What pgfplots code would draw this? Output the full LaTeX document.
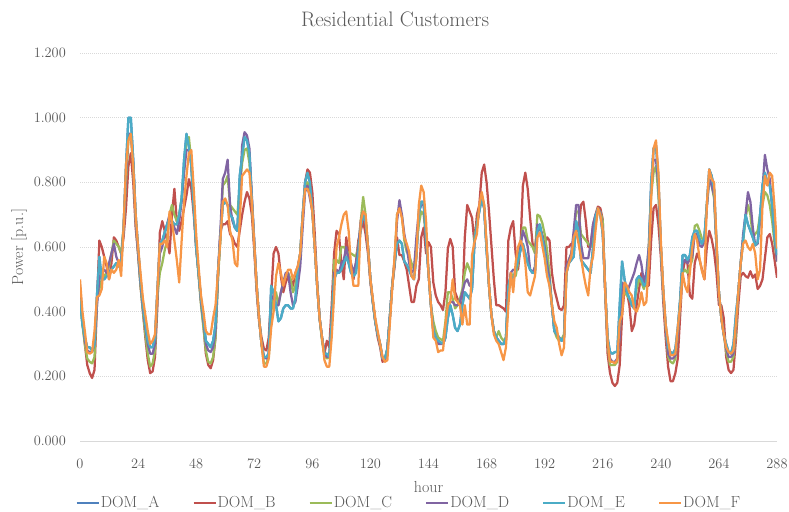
\documentclass[border=0pt]{standalone}
\usepackage{pgfplots}
\pgfplotsset{compat=1.18}
\usepackage{pgfplotstable}
\definecolor{cA}{HTML}{4F81BD}
\definecolor{cB}{HTML}{C0504D}
\definecolor{cC}{HTML}{9BBB59}
\definecolor{cD}{HTML}{8064A2}
\definecolor{cE}{HTML}{4BACC6}
\definecolor{cF}{HTML}{F79646}
\definecolor{txt}{HTML}{595959}
\definecolor{gridc}{HTML}{D9D9D9}

\pgfplotstableread{
h B C D E F
0 0.45 0.44 0.48 0.44 0.50
1 0.37 0.36 0.38 0.36 0.40
2 0.30 0.30 0.31 0.32 0.34
3 0.235 0.255 0.28 0.29 0.275
4 0.21 0.245 0.275 0.29 0.27
5 0.195 0.24 0.275 0.28 0.275
6 0.22 0.26 0.30 0.30 0.34
7 0.42 0.44 0.42 0.45 0.445
8 0.62 0.47 0.50 0.57 0.45
9 0.60 0.50 0.53 0.50 0.47
10 0.57 0.51 0.53 0.50 0.57
11 0.54 0.52 0.52 0.51 0.55
12 0.50 0.54 0.55 0.52 0.50
13 0.55 0.58 0.58 0.53 0.53
14 0.63 0.62 0.61 0.54 0.52
15 0.62 0.61 0.57 0.55 0.53
16 0.60 0.60 0.55 0.54 0.56
17 0.58 0.58 0.56 0.55 0.51
18 0.63 0.66 0.65 0.66 0.66
19 0.72 0.80 0.82 0.85 0.85
20 0.85 0.93 0.95 1.00 0.93
21 0.89 0.95 0.95 1.00 0.95
22 0.80 0.85 0.86 0.87 0.85
23 0.66 0.68 0.68 0.70 0.70
24 0.58 0.58 0.58 0.60 0.60
25 0.48 0.48 0.49 0.50 0.52
26 0.40 0.40 0.41 0.42 0.44
27 0.32 0.33 0.35 0.36 0.39
28 0.25 0.27 0.30 0.31 0.34
29 0.21 0.23 0.27 0.29 0.30
30 0.215 0.24 0.27 0.29 0.31
31 0.26 0.28 0.30 0.32 0.33
32 0.42 0.45 0.46 0.47 0.47
33 0.645 0.52 0.58 0.61 0.61
34 0.68 0.55 0.60 0.62 0.61
35 0.65 0.59 0.645 0.645 0.62
36 0.62 0.62 0.67 0.67 0.60
37 0.58 0.70 0.70 0.69 0.71
38 0.70 0.73 0.68 0.68 0.68
39 0.78 0.70 0.66 0.67 0.62
40 0.68 0.68 0.64 0.67 0.56
41 0.65 0.70 0.68 0.70 0.49
42 0.68 0.75 0.74 0.75 0.62
43 0.72 0.84 0.83 0.87 0.74
44 0.76 0.93 0.90 0.95 0.82
45 0.81 0.94 0.90 0.91 0.89
46 0.78 0.86 0.86 0.85 0.90
47 0.70 0.73 0.73 0.72 0.78
48 0.60 0.60 0.60 0.60 0.64
49 0.52 0.51 0.52 0.52 0.54
50 0.43 0.42 0.43 0.44 0.45
51 0.36 0.35 0.37 0.38 0.40
52 0.27 0.28 0.30 0.31 0.34
53 0.235 0.245 0.28 0.30 0.33
54 0.225 0.24 0.275 0.29 0.33
55 0.25 0.26 0.29 0.31 0.38
56 0.32 0.32 0.34 0.36 0.42
57 0.50 0.50 0.52 0.52 0.52
58 0.65 0.62 0.65 0.63 0.62
59 0.67 0.79 0.81 0.73 0.74
60 0.67 0.80 0.83 0.74 0.75
61 0.68 0.82 0.87 0.73 0.73
62 0.64 0.73 0.73 0.70 0.65
63 0.63 0.72 0.68 0.69 0.62
64 0.61 0.71 0.66 0.66 0.55
65 0.60 0.70 0.65 0.65 0.54
66 0.65 0.78 0.76 0.82 0.68
67 0.70 0.86 0.915 0.88 0.82
68 0.74 0.90 0.955 0.94 0.83
69 0.77 0.905 0.945 0.93 0.84
70 0.75 0.86 0.905 0.89 0.83
71 0.70 0.74 0.76 0.75 0.74
72 0.59 0.61 0.62 0.61 0.61
73 0.46 0.48 0.48 0.48 0.48
74 0.37 0.38 0.38 0.38 0.38
75 0.32 0.30 0.30 0.30 0.30
76 0.285 0.24 0.26 0.26 0.23
77 0.28 0.24 0.255 0.26 0.23
78 0.32 0.26 0.27 0.27 0.255
79 0.45 0.40 0.45 0.48 0.35
80 0.58 0.44 0.44 0.46 0.40
81 0.60 0.46 0.42 0.42 0.51
82 0.58 0.42 0.42 0.37 0.55
83 0.51 0.46 0.46 0.38 0.52
84 0.46 0.49 0.49 0.41 0.48
85 0.49 0.51 0.52 0.42 0.51
86 0.51 0.52 0.52 0.42 0.53
87 0.50 0.50 0.46 0.41 0.53
88 0.48 0.46 0.42 0.41 0.50
89 0.52 0.48 0.43 0.44 0.52
90 0.54 0.53 0.48 0.53 0.54
91 0.58 0.58 0.54 0.58 0.58
92 0.69 0.69 0.66 0.70 0.69
93 0.80 0.78 0.77 0.80 0.78
94 0.84 0.80 0.79 0.83 0.78
95 0.83 0.77 0.75 0.80 0.76
96 0.77 0.71 0.71 0.72 0.71
97 0.64 0.60 0.60 0.60 0.60
98 0.49 0.48 0.48 0.48 0.48
99 0.38 0.38 0.38 0.38 0.38
100 0.32 0.31 0.32 0.32 0.32
101 0.27 0.265 0.27 0.27 0.25
102 0.31 0.255 0.26 0.27 0.23
103 0.29 0.26 0.26 0.26 0.23
104 0.42 0.36 0.36 0.37 0.32
105 0.58 0.56 0.52 0.50 0.45
106 0.65 0.56 0.53 0.52 0.60
107 0.64 0.55 0.52 0.52 0.63
108 0.55 0.60 0.55 0.53 0.67
109 0.50 0.60 0.56 0.55 0.70
110 0.63 0.59 0.60 0.57 0.71
111 0.58 0.58 0.56 0.55 0.65
112 0.53 0.58 0.55 0.52 0.54
113 0.50 0.575 0.52 0.51 0.48
114 0.55 0.57 0.55 0.52 0.48
115 0.62 0.60 0.60 0.58 0.48
116 0.65 0.68 0.68 0.66 0.68
117 0.68 0.755 0.71 0.70 0.71
118 0.64 0.70 0.68 0.68 0.70
119 0.58 0.60 0.60 0.60 0.60
120 0.49 0.50 0.50 0.50 0.50
121 0.43 0.43 0.43 0.43 0.44
122 0.37 0.37 0.37 0.37 0.38
123 0.32 0.33 0.33 0.33 0.34
124 0.29 0.30 0.30 0.30 0.30
125 0.245 0.255 0.255 0.255 0.26
126 0.25 0.255 0.25 0.255 0.245
127 0.28 0.285 0.285 0.285 0.25
128 0.38 0.38 0.38 0.38 0.36
129 0.48 0.48 0.48 0.48 0.47
130 0.54 0.56 0.56 0.55 0.57
131 0.63 0.70 0.68 0.61 0.70
132 0.575 0.72 0.745 0.62 0.72
133 0.575 0.70 0.70 0.61 0.69
134 0.555 0.62 0.64 0.555 0.63
135 0.53 0.585 0.60 0.545 0.61
136 0.48 0.575 0.55 0.53 0.585
137 0.43 0.55 0.52 0.51 0.51
138 0.43 0.53 0.53 0.50 0.50
139 0.48 0.60 0.63 0.57 0.57
140 0.50 0.67 0.71 0.70 0.73
141 0.63 0.71 0.73 0.74 0.79
142 0.66 0.70 0.73 0.74 0.77
143 0.58 0.63 0.62 0.63 0.68
144 0.615 0.52 0.52 0.52 0.52
145 0.60 0.42 0.42 0.42 0.42
146 0.49 0.37 0.34 0.34 0.32
147 0.45 0.34 0.32 0.32 0.31
148 0.43 0.32 0.30 0.31 0.275
149 0.42 0.315 0.30 0.305 0.28
150 0.405 0.31 0.30 0.30 0.28
151 0.46 0.37 0.32 0.32 0.36
152 0.595 0.46 0.42 0.38 0.42
153 0.625 0.46 0.43 0.42 0.43
154 0.60 0.44 0.43 0.39 0.50
155 0.46 0.41 0.42 0.35 0.44
156 0.44 0.42 0.42 0.34 0.43
157 0.42 0.44 0.43 0.36 0.42
158 0.43 0.47 0.46 0.42 0.36
159 0.63 0.52 0.49 0.46 0.42
160 0.73 0.55 0.50 0.45 0.36
161 0.71 0.53 0.48 0.44 0.36
162 0.69 0.51 0.48 0.47 0.575
163 0.61 0.63 0.615 0.615 0.615
164 0.70 0.67 0.66 0.67 0.64
165 0.73 0.72 0.72 0.71 0.73
166 0.83 0.76 0.76 0.75 0.77
167 0.855 0.73 0.72 0.72 0.73
168 0.80 0.60 0.60 0.59 0.61
169 0.71 0.48 0.48 0.48 0.48
170 0.605 0.39 0.39 0.39 0.39
171 0.50 0.34 0.34 0.34 0.33
172 0.42 0.32 0.32 0.32 0.31
173 0.42 0.34 0.31 0.31 0.30
174 0.415 0.32 0.30 0.30 0.275
175 0.41 0.31 0.30 0.30 0.25
176 0.40 0.32 0.31 0.32 0.29
177 0.62 0.46 0.47 0.48 0.42
178 0.66 0.52 0.52 0.51 0.52
179 0.68 0.51 0.53 0.50 0.46
180 0.58 0.51 0.53 0.53 0.55
181 0.53 0.55 0.56 0.56 0.60
182 0.60 0.61 0.60 0.59 0.62
183 0.79 0.66 0.65 0.61 0.60
184 0.83 0.66 0.63 0.58 0.55
185 0.78 0.62 0.60 0.55 0.46
186 0.69 0.61 0.53 0.53 0.45
187 0.61 0.60 0.52 0.52 0.48
188 0.60 0.58 0.54 0.52 0.51
189 0.65 0.70 0.67 0.65 0.63
190 0.66 0.695 0.66 0.67 0.645
191 0.64 0.675 0.63 0.63 0.605
192 0.605 0.64 0.60 0.585 0.565
193 0.63 0.59 0.545 0.52 0.51
194 0.62 0.52 0.50 0.49 0.48
195 0.52 0.42 0.42 0.42 0.42
196 0.47 0.34 0.34 0.34 0.37
197 0.44 0.32 0.33 0.33 0.35
198 0.41 0.31 0.32 0.32 0.30
199 0.405 0.315 0.31 0.31 0.265
200 0.42 0.33 0.32 0.32 0.29
201 0.60 0.52 0.54 0.52 0.52
202 0.60 0.56 0.56 0.55 0.55
203 0.61 0.58 0.58 0.56 0.57
204 0.61 0.63 0.65 0.57 0.63
205 0.65 0.71 0.73 0.68 0.65
206 0.65 0.71 0.73 0.65 0.61
207 0.73 0.64 0.61 0.56 0.57
208 0.74 0.63 0.565 0.55 0.52
209 0.68 0.62 0.565 0.54 0.48
210 0.60 0.61 0.565 0.53 0.45
211 0.60 0.60 0.61 0.52 0.54
212 0.67 0.61 0.67 0.60 0.57
213 0.70 0.67 0.70 0.695 0.65
214 0.725 0.71 0.71 0.72 0.72
215 0.72 0.71 0.71 0.70 0.70
216 0.685 0.68 0.65 0.64 0.65
217 0.46 0.47 0.47 0.47 0.47
218 0.27 0.30 0.31 0.32 0.31
219 0.21 0.235 0.255 0.275 0.245
220 0.18 0.235 0.245 0.27 0.245
221 0.17 0.235 0.245 0.275 0.24
222 0.18 0.245 0.255 0.275 0.25
223 0.235 0.33 0.32 0.42 0.37
224 0.39 0.46 0.49 0.555 0.39
225 0.47 0.46 0.48 0.50 0.49
226 0.46 0.45 0.46 0.46 0.48
227 0.42 0.44 0.48 0.44 0.46
228 0.34 0.43 0.50 0.42 0.45
229 0.36 0.43 0.52 0.41 0.41
230 0.42 0.47 0.55 0.50 0.40
231 0.47 0.50 0.575 0.51 0.42
232 0.52 0.49 0.545 0.50 0.46
233 0.48 0.47 0.49 0.48 0.42
234 0.48 0.50 0.52 0.49 0.43
235 0.48 0.60 0.60 0.565 0.545
236 0.62 0.76 0.78 0.80 0.75
237 0.72 0.83 0.87 0.905 0.905
238 0.73 0.85 0.87 0.915 0.93
239 0.67 0.76 0.79 0.81 0.83
240 0.57 0.60 0.60 0.60 0.62
241 0.43 0.46 0.46 0.46 0.47
242 0.32 0.35 0.35 0.36 0.36
243 0.23 0.26 0.27 0.29 0.31
244 0.185 0.245 0.255 0.275 0.265
245 0.185 0.24 0.255 0.27 0.265
246 0.21 0.255 0.265 0.285 0.27
247 0.255 0.33 0.33 0.35 0.35
248 0.39 0.43 0.43 0.44 0.42
249 0.52 0.52 0.55 0.575 0.52
250 0.56 0.53 0.56 0.575 0.48
251 0.55 0.52 0.55 0.56 0.46
252 0.45 0.54 0.56 0.575 0.52
253 0.44 0.56 0.57 0.63 0.60
254 0.55 0.665 0.64 0.65 0.64
255 0.58 0.67 0.64 0.65 0.62
256 0.56 0.65 0.605 0.625 0.565
257 0.53 0.625 0.60 0.61 0.525
258 0.50 0.625 0.615 0.63 0.50
259 0.60 0.73 0.72 0.73 0.73
260 0.65 0.81 0.81 0.84 0.84
261 0.625 0.79 0.79 0.82 0.81
262 0.585 0.75 0.76 0.78 0.80
263 0.52 0.60 0.60 0.61 0.62
264 0.42 0.46 0.46 0.46 0.46
265 0.42 0.38 0.38 0.38 0.38
266 0.38 0.33 0.33 0.33 0.33
267 0.26 0.275 0.285 0.30 0.29
268 0.22 0.245 0.26 0.275 0.275
269 0.21 0.245 0.26 0.27 0.27
270 0.22 0.26 0.27 0.30 0.28
271 0.31 0.33 0.35 0.39 0.36
272 0.42 0.46 0.46 0.46 0.46
273 0.51 0.55 0.55 0.55 0.55
274 0.52 0.62 0.64 0.62 0.61
275 0.51 0.69 0.70 0.70 0.62
276 0.505 0.73 0.77 0.67 0.60
277 0.525 0.70 0.74 0.65 0.59
278 0.505 0.63 0.66 0.63 0.61
279 0.515 0.64 0.605 0.605 0.58
280 0.47 0.65 0.61 0.615 0.50
281 0.48 0.70 0.68 0.70 0.53
282 0.50 0.73 0.78 0.79 0.73
283 0.565 0.77 0.885 0.83 0.82
284 0.63 0.76 0.84 0.80 0.79
285 0.64 0.73 0.81 0.79 0.83
286 0.61 0.68 0.73 0.73 0.82
287 0.56 0.61 0.63 0.63 0.72
288 0.505 0.555 0.555 0.575 0.595
}\data

\begin{document}
\begin{tikzpicture}
\path[use as bounding box] (0,0) rectangle (789bp,512bp);
\begin{axis}[
  at={(80bp,71bp)}, anchor=south west,
  scale only axis, width=697bp, height=388bp,
  xmin=0, xmax=288, ymin=0, ymax=1.2,
  xtick={0,24,...,288},
  ytick={0,0.2,0.4,0.6,0.8,1.0,1.2},
  axis x line*=bottom, axis y line*=left,
  x axis line style={draw=gridc, line width=0.75bp, -},
  y axis line style={draw=none},
  major tick length=0pt,
  ymajorgrids,
  major grid style={draw=gridc, line width=0.75bp, dash pattern=on 1bp off 1bp},
  font=\fontsize{15bp}{18bp}\selectfont,
  tick label style={text=txt},
  yticklabel style={anchor=east, inner sep=0pt, xshift=-14bp,
    /pgf/number format/.cd, fixed, fixed zerofill, precision=3},
  xticklabel style={anchor=base, inner sep=0pt, yshift=-27bp},
  title={Residential Customers},
  title style={at={(axis description cs:0.452,1.054)}, anchor=base, text=txt,
    font=\fontsize{21bp}{24bp}\selectfont},
  xlabel={hour},
  xlabel style={at={(axis description cs:0.5,-0.1186)}, anchor=center, text=txt,
    font=\fontsize{16bp}{19bp}\selectfont},
  ylabel={Power [p.u.]},
  ylabel style={at={(axis description cs:-0.0875,0.5)}, anchor=center, text=txt,
    font=\fontsize{16bp}{19bp}\selectfont},
  legend columns=6,
  legend style={at={(axis description cs:-0.011,-0.16)}, anchor=west, draw=none, fill=none,
    text=txt, font=\fontsize{16bp}{19bp}\selectfont,
    nodes={inner xsep=1bp},
    /tikz/every even column/.append style={column sep=32bp}},
  legend cell align=left,
  legend image code/.code={\draw[#1] (0bp,0bp) -- (22bp,0bp);},
  every axis plot/.append style={line width=2.25bp, line join=round, mark=none},
]
\addplot[cA] table[x=h, y=E] {\data};
\addplot[cB] table[x=h, y=B] {\data};
\addplot[cC] table[x=h, y=C] {\data};
\addplot[cD] table[x=h, y=D] {\data};
\addplot[cE] table[x=h, y=E] {\data};
\addplot[cF] table[x=h, y=F] {\data};
\legend{DOM\_A, DOM\_B, DOM\_C, DOM\_D, DOM\_E, DOM\_F}
\end{axis}
\end{tikzpicture}
\end{document}
